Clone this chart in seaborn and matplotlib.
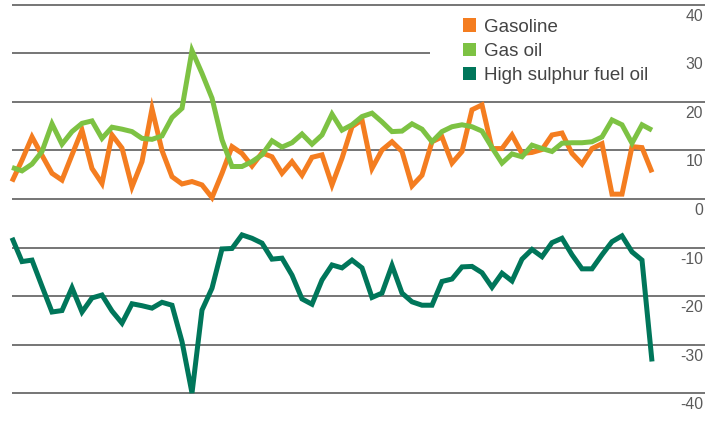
import numpy as np
import pandas as pd
import seaborn as sns
import matplotlib
matplotlib.use("Agg")
import matplotlib.pyplot as plt
from matplotlib.patches import Patch
from matplotlib.transforms import ScaledTranslation
from matplotlib.ticker import FixedLocator, FixedFormatter

# ---------------- data ----------------
series_names = ["Gasoline", "Gas oil", "High sulphur fuel oil"]

gasoline = [3.6, 8.0, 12.8, 9.0, 5.3, 3.9, 9.1, 14.2, 6.3, 3.2,
            13.2, 10.5, 2.5, 7.7, 18.6, 10.0, 4.6, 3.1, 3.6, 2.9,
            0.3, 5.3, 10.8, 9.4, 6.8, 9.5, 8.7, 5.3, 7.7, 4.9,
            8.6, 9.1, 2.9, 8.4, 14.9, 16.3, 6.3, 10.1, 11.8, 9.8,
            2.7, 4.9, 11.8, 12.8, 7.4, 9.8, 18.4, 19.4, 10.4, 10.4,
            13.2, 9.4, 9.6, 10.2, 13.2, 13.6, 9.4, 7.2, 10.4, 11.4,
            1.0, 1.0, 10.8, 10.6, 5.5]

gas_oil = [6.5, 5.8, 7.2, 9.8, 15.5, 11.3, 13.9, 15.6, 16.1, 12.5,
           14.8, 14.4, 13.9, 12.5, 12.3, 13.0, 16.8, 18.7, 30.6, 25.9,
           20.8, 12.2, 6.7, 6.7, 7.7, 9.1, 12.0, 10.7, 11.6, 13.4,
           11.3, 13.2, 17.5, 14.2, 15.3, 17.0, 17.7, 15.9, 13.9, 14.0,
           15.5, 14.4, 11.8, 13.9, 14.9, 15.3, 14.9, 14.0, 10.6, 7.4,
           9.3, 8.7, 11.1, 10.4, 9.8, 11.5, 11.6, 11.6, 11.8, 12.8,
           16.3, 15.3, 11.5, 15.3, 14.2]

hsfo = [-8.0, -12.9, -12.6, -18.0, -23.3, -23.0, -18.3, -23.3, -20.4, -19.8,
        -23.1, -25.6, -21.6, -22.0, -22.5, -21.3, -21.9, -29.4, -40.0, -22.9,
        -18.4, -10.3, -10.2, -7.4, -8.1, -9.1, -12.4, -12.2, -15.7, -20.6,
        -21.7, -16.7, -13.6, -14.2, -12.6, -14.2, -20.3, -19.4, -13.7, -19.4,
        -21.2, -21.9, -21.9, -17.0, -16.5, -14.0, -13.9, -15.2, -18.2, -15.3,
        -16.9, -12.4, -10.4, -11.9, -9.0, -8.1, -11.5, -14.4, -14.4, -11.5,
        -8.8, -7.6, -10.9, -12.6, -33.5]

y_ticks = [-40, -30, -20, -10, 0, 10, 20, 30, 40]
y_tick_labels = ["-40", "-30", "-20", "-10", "0", "10", "20", "30", "40"]

colors = ["#F47D20", "#7DC243", "#00765A"]

# ---------------- build frame ----------------
idx = np.arange(len(gasoline))
df = pd.concat([
    pd.DataFrame({"idx": idx, "value": gasoline, "series": series_names[0]}),
    pd.DataFrame({"idx": idx, "value": gas_oil, "series": series_names[1]}),
    pd.DataFrame({"idx": idx, "value": hsfo, "series": series_names[2]}),
], ignore_index=True)

sns.set_theme(style="white")
plt.rcParams["font.family"] = ["Liberation Sans", "DejaVu Sans"]
plt.rcParams["axes.unicode_minus"] = False
plt.rcParams["lines.solid_joinstyle"] = "miter"
plt.rcParams["lines.solid_capstyle"] = "butt"

W, H = 718, 440
fig = plt.figure(figsize=(W / 100, H / 100), dpi=100)
left_px, right_px, top_px, bottom_px = 12, 705, 5, 393
ax = fig.add_axes([left_px / W, 1 - bottom_px / H,
                   (right_px - left_px) / W, (bottom_px - top_px) / H])

# gridlines (the 30 line is interrupted by the legend)
grid_color = "#505050"
legend_cut = (430 - left_px) / (right_px - left_px)
for t in y_ticks:
    xmax = legend_cut if t == 30 else 1.0
    ax.axhline(t, xmin=0, xmax=xmax, color=grid_color, lw=1.1, zorder=1,
               clip_on=False)

sns.lineplot(data=df, x="idx", y="value", hue="series",
             hue_order=series_names, palette=colors, linewidth=3.6,
             legend=False, ax=ax, zorder=3)
for ln in ax.lines:
    if ln.get_linewidth() > 2:
        ln.set_clip_on(False)

ax.set_xlim(0, (right_px - left_px) / 10.0)
ax.set_ylim(-40, 40)
ax.set_xlabel("")
ax.set_ylabel("")
ax.set_xticks([])
for s in ax.spines.values():
    s.set_visible(False)

ax.yaxis.set_major_locator(FixedLocator(y_ticks))
ax.yaxis.set_major_formatter(FixedFormatter(y_tick_labels))
ax.yaxis.tick_right()
ax.tick_params(axis="y", length=0, pad=-2 * 0.72, labelsize=11.3,
               labelcolor="#5a5a5a")
off = ScaledTranslation(0, -10 / 100, fig.dpi_scale_trans)
for lbl in ax.get_yticklabels():
    lbl.set_horizontalalignment("right")
    lbl.set_transform(lbl.get_transform() + off)

handles = [Patch(facecolor=c, edgecolor="none") for c in colors]
leg = ax.legend(handles, series_names, loc="upper left",
                bbox_to_anchor=(463 / W, 1 - 18.5 / H),
                bbox_transform=fig.transFigure, frameon=False,
                fontsize=13.5, handlelength=0.7, handleheight=0.7,
                handletextpad=0.43, labelspacing=0.37, borderpad=0,
                borderaxespad=0)
for t in leg.get_texts():
    t.set_color("#444444")

fig.savefig("out.png", dpi=100)
